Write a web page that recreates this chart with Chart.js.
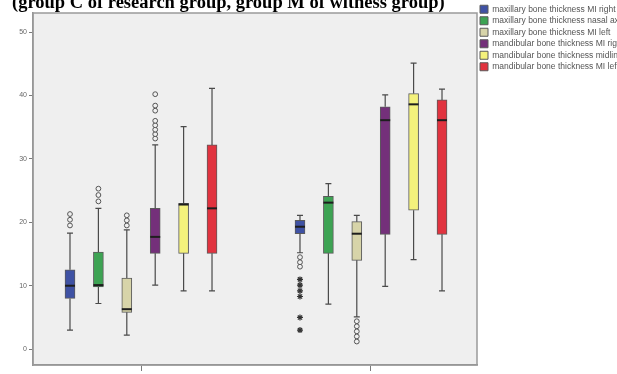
<!DOCTYPE html>
<html>
<head>
<meta charset="utf-8">
<script src="https://cdn.jsdelivr.net/npm/chart.js@4.4.1/dist/chart.umd.min.js"></script>
<style>
  html, body { margin: 0; padding: 0; background: #ffffff; }
  #wrap { width: 617px; height: 374px; }
</style>
</head>
<body>
<div id="wrap"><canvas id="c" width="617" height="374"></canvas></div>
<script>
// Groups on the x axis
const groupLabels = ['group C', 'group M'];

// Measured variables (one box per variable in each group)
const seriesNames = [
  'maxillary bone thickness MI right',
  'maxillary bone thickness nasal axis',
  'maxillary bone thickness MI left',
  'mandibular bone thickness MI right',
  'mandibular bone thickness midline',
  'mandibular bone thickness MI left'
];

// Five-number summaries [lower whisker, Q1, median, Q3, upper whisker], per group
const mxRight = [[3.0, 8.0, 10.0, 12.5, 18.3], [15.2, 18.2, 19.3, 20.3, 21.1]];
const mxNasal = [[7.2, 9.8, 10.1, 15.3, 22.2], [7.1, 15.1, 23.1, 24.1, 26.1]];
const mxLeft  = [[2.2, 5.8, 6.3, 11.2, 18.8], [5.1, 14.0, 18.2, 20.1, 21.1]];
const mdRight = [[10.1, 15.1, 17.7, 22.2, 32.2], [9.9, 18.1, 36.1, 38.2, 40.1]];
const mdMid   = [[9.2, 15.1, 22.8, 23.0, 35.1], [14.1, 21.9, 38.6, 40.3, 45.1]];
const mdLeft  = [[9.2, 15.1, 22.2, 32.2, 41.1], [9.2, 18.1, 36.1, 39.3, 41.0]];

// Outliers (circles) and extreme values (stars), per group
const mxRightOut = [[19.5, 20.4, 21.3], [14.5, 13.7, 13.0]];
const mxRightExt = [[], [11.0, 10.1, 9.2, 8.3, 5.0, 3.0]];
const mxNasalOut = [[23.3, 24.3, 25.3], []];
const mxLeftOut  = [[19.5, 20.3, 21.1], [4.4, 3.6, 2.8, 2.0, 1.2]];
const mdRightOut = [[33.2, 33.9, 34.6, 35.3, 36.0, 37.6, 38.4, 40.2], []];
const mdMidOut   = [[], []];
const mdLeftOut  = [[], []];

// y axis tick values
const yTicks = [0, 10, 20, 30, 40, 50];

const summaries = [mxRight, mxNasal, mxLeft, mdRight, mdMid, mdLeft];
const outliers = [mxRightOut, mxNasalOut, mxLeftOut, mdRightOut, mdMidOut, mdLeftOut];
const extremes = [mxRightExt, [[], []], [[], []], [[], []], [[], []], [[], []]];

const fills = ['#3f52a4', '#3da353', '#d7d4a9', '#74307a', '#f4f27c', '#e1333f'];

// Box i of group g sits at g + (i - 2.5) * slot on the linear x axis
const slot = 0.1235;
const boxX = (g, i) => (g + 1) + (i - 2.5) * slot;

const datasets = [];
summaries.forEach((s, i) => {
  datasets.push({
    type: 'bar',
    label: seriesNames[i],
    data: s.map((v, g) => ({ x: boxX(g, i), y: [v[1], v[3]] })),
    backgroundColor: fills[i],
    borderColor: '#5b5b5b',
    borderWidth: 1,
    borderSkipped: false,
    barThickness: 10,
    grouped: false
  });
});
outliers.forEach((o, i) => {
  const pts = [];
  o.forEach((vals, g) => vals.forEach(v => pts.push({ x: boxX(g, i), y: v })));
  datasets.push({
    type: 'scatter', label: 'outliers ' + i, data: pts,
    pointStyle: 'circle', pointRadius: 2.4, pointBorderWidth: 1,
    borderColor: '#555', backgroundColor: '#f0f0f0'
  });
});
extremes.forEach((o, i) => {
  const pts = [];
  o.forEach((vals, g) => vals.forEach(v => pts.push({ x: boxX(g, i), y: v })));
  datasets.push({
    type: 'scatter', label: 'extremes ' + i, data: pts,
    pointStyle: 'star', pointRadius: 3, pointBorderWidth: 1.2,
    borderColor: '#333', backgroundColor: '#333'
  });
});

// Plot-area background and frame
const frame = {
  id: 'frame',
  beforeDraw(chart) {
    const { ctx, chartArea: a } = chart;
    ctx.save();
    ctx.fillStyle = '#efefef';
    ctx.fillRect(a.left, a.top, a.right - a.left, a.bottom - a.top);
    ctx.restore();
  },
  afterDraw(chart) {
    const { ctx, chartArea: a } = chart;
    ctx.save();
    ctx.strokeStyle = '#9a9a9a';
    ctx.lineWidth = 1.5;
    ctx.strokeRect(a.left, a.top, a.right - a.left, a.bottom - a.top);
    ctx.restore();
  }
};

// Whiskers, caps and medians drawn from the summaries through the scales
const whiskers = {
  id: 'whiskers',
  afterDatasetsDraw(chart) {
    const { ctx } = chart;
    const ys = chart.scales.y;
    ctx.save();
    summaries.forEach((s, i) => {
      const meta = chart.getDatasetMeta(i);
      meta.data.forEach((bar, g) => {
        const st = s[g];
        const x = bar.x;
        const yMin = ys.getPixelForValue(st[0]);
        const yMed = ys.getPixelForValue(st[2]);
        const yQ1 = ys.getPixelForValue(st[1]);
        const yQ3 = ys.getPixelForValue(st[3]);
        const yMax = ys.getPixelForValue(st[4]);
        ctx.strokeStyle = '#4a4a4a';
        ctx.lineWidth = 1.2;
        ctx.beginPath();
        ctx.moveTo(x, yQ3); ctx.lineTo(x, yMax);
        ctx.moveTo(x, yQ1); ctx.lineTo(x, yMin);
        ctx.moveTo(x - 3, yMax); ctx.lineTo(x + 3, yMax);
        ctx.moveTo(x - 3, yMin); ctx.lineTo(x + 3, yMin);
        ctx.stroke();
        ctx.strokeStyle = '#1e1e1e';
        ctx.lineWidth = 2;
        ctx.beginPath();
        ctx.moveTo(x - bar.width / 2, yMed); ctx.lineTo(x + bar.width / 2, yMed);
        ctx.stroke();
      });
    });
    ctx.restore();
  }
};

new Chart(document.getElementById('c'), {
  data: { datasets },
  options: {
    responsive: false,
    animation: false,
    layout: { padding: { left: 12, top: 2, right: 0, bottom: 0 } },
    plugins: {
      tooltip: { enabled: false },
      title: {
        display: true,
        text: '(group C of research group, group M of witness group)',
        align: 'start',
        color: '#000',
        font: { family: 'Liberation Serif', size: 18.5, weight: 'bold' },
        padding: { top: -10, bottom: -1.2 }
      },
      legend: {
        display: true,
        position: 'right',
        align: 'start',
        maxWidth: 140,
        labels: {
          filter: item => item.datasetIndex < summaries.length,
          boxWidth: 8,
          boxHeight: 8,
          padding: 3,
          color: '#555',
          font: { family: 'Liberation Sans', size: 8.5 }
        }
      }
    },
    scales: {
      x: {
        type: 'linear',
        offset: false,
        min: 0.5304,
        max: 2.4609,
        afterBuildTicks: sc => { sc.ticks = groupLabels.map((_, g) => ({ value: g + 1 })); },
        afterFit: sc => { sc.height = 9; },
        ticks: { display: false },
        grid: { display: true, offset: false, drawOnChartArea: false, drawTicks: true, tickLength: 6, color: '#7a7a7a', lineWidth: 1 },
        border: { display: true, color: '#8c8c8c', width: 1.5 }
      },
      y: {
        type: 'linear',
        min: -2.5,
        max: 53,
        afterBuildTicks: sc => { sc.ticks = yTicks.map(v => ({ value: v })); },
        afterFit: sc => { sc.width = 21; },
        ticks: {
          padding: 2,
          color: '#666',
          font: { family: 'Liberation Sans', size: 7 }
        },
        grid: { display: true, drawOnChartArea: false, drawTicks: true, tickLength: 4, color: '#7a7a7a', lineWidth: 1 },
        border: { display: true, color: '#8c8c8c', width: 1.5 }
      }
    }
  },
  plugins: [frame, whiskers]
});
</script>
</body>
</html>
